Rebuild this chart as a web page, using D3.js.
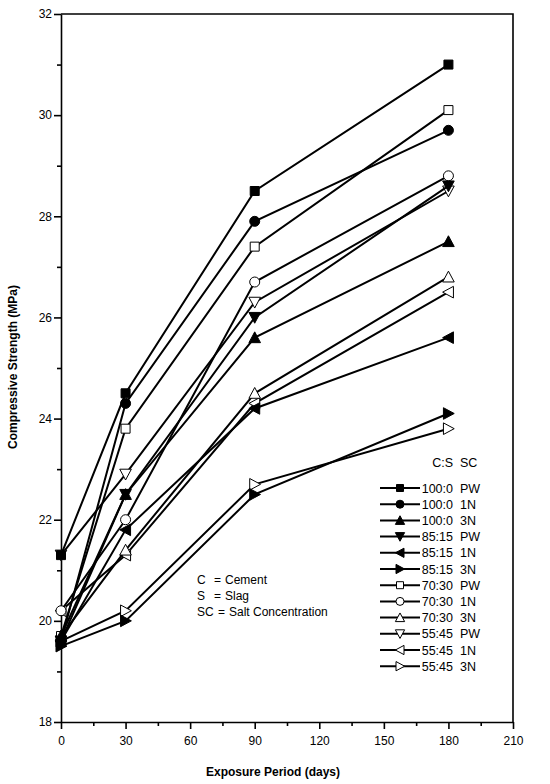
<!DOCTYPE html>
<html>
<head>
<meta charset="utf-8">
<script src="https://cdn.jsdelivr.net/npm/d3@7"></script>
<style>
  body { margin: 0; background: #fff; }
  svg { font-family: Arial, "Liberation Sans", sans-serif; }
</style>
</head>
<body>
<script>
(function () {
  'use strict';

  // exposure period (days)
  const days = [0, 30, 90, 180];

  // series labels (C:S ratio, salt concentration)
  const ratios = ['100:0', '100:0', '100:0', '85:15', '85:15', '85:15',
                  '70:30', '70:30', '70:30', '55:45', '55:45', '55:45'];
  const saltConc = ['PW', '1N', '3N', 'PW', '1N', '3N',
                    'PW', '1N', '3N', 'PW', '1N', '3N'];

  // compressive strength (MPa) per series
  const s100PW = [21.3, 24.5, 28.5, 31.0];
  const s100N1 = [19.6, 24.3, 27.9, 29.7];
  const s100N3 = [19.7, 22.5, 25.6, 27.5];
  const s85PW  = [19.6, 22.5, 26.0, 28.6];
  const s85N1  = [19.6, 21.8, 24.2, 25.6];
  const s85N3  = [19.5, 20.0, 22.5, 24.1];
  const s70PW  = [19.7, 23.8, 27.4, 30.1];
  const s70N1  = [20.2, 22.0, 26.7, 28.8];
  const s70N3  = [19.7, 21.4, 24.5, 26.8];
  const s55PW  = [21.3, 22.9, 26.3, 28.5];
  const s55N1  = [20.2, 21.3, 24.3, 26.5];
  const s55N3  = [19.6, 20.2, 22.7, 23.8];

  const seriesValues = [s100PW, s100N1, s100N3, s85PW, s85N1, s85N3,
                        s70PW, s70N1, s70N3, s55PW, s55N1, s55N3];

  // marker shape and fill for each series
  const shapes = ['square', 'circle', 'up', 'down', 'left', 'right',
                  'square', 'circle', 'up', 'down', 'left', 'right'];
  const filled = [true, true, true, true, true, true,
                  false, false, false, false, false, false];

  const xTicks = [0, 30, 60, 90, 120, 150, 180, 210];
  const yTicks = [18, 20, 22, 24, 26, 28, 30, 32];

  const series = seriesValues.map((v, i) => ({
    ratio: ratios[i],
    sc: saltConc[i],
    shape: shapes[i],
    filled: filled[i],
    points: days.map((d, j) => [d, v[j]])
  }));

  var width = 550;
  var height = 784;
  var margin = { left: 61, top: 14, right: 37, bottom: 62 };
  var plotW = width - margin.left - margin.right;
  var plotH = height - margin.top - margin.bottom;

  var svg = d3.select('body')
    .append('svg')
    .attr('width', width)
    .attr('height', height);

  var g = svg.append('g')
    .attr('transform', `translate(${margin.left},${margin.top})`);

  let xScale = d3.scaleLinear().domain([0, 210]).range([0, plotW]);
  let yScale = d3.scaleLinear().domain([18, 32]).range([plotH, 0]);

  // ===========================================================================
  // axes
  // ===========================================================================

  // minor ticks first
  g.append('g')
    .attr('transform', `translate(0,${plotH})`)
    .call(d3.axisBottom(xScale).tickValues(d3.range(15, 210, 30)).tickSize(4).tickFormat(''))
    .call(a => a.select('.domain').remove());

  g.append('g')
    .call(d3.axisLeft(yScale).tickValues(d3.range(19, 32, 2)).tickSize(4).tickFormat(''))
    .call(a => a.select('.domain').remove());

  let xAxis = g.append('g')
    .attr('transform', `translate(0,${plotH})`)
    .call(d3.axisBottom(xScale).tickValues(xTicks).tickSize(7).tickSizeOuter(0).tickPadding(7));

  let yAxis = g.append('g')
    .call(d3.axisLeft(yScale).tickValues(yTicks).tickSize(7).tickSizeOuter(0).tickPadding(2));

  g.selectAll('.tick line').attr('stroke', '#000').attr('stroke-width', 1.6);
  g.selectAll('.domain').attr('stroke-width', 1.6);
  xAxis.selectAll('text').attr('font-size', '12px').attr('fill', '#000')
    .attr('font-family', 'Arial, "Liberation Sans", sans-serif');
  yAxis.selectAll('text').attr('font-size', '12px').attr('fill', '#000')
    .attr('font-family', 'Arial, "Liberation Sans", sans-serif');

  // frame: top and right
  g.append('path')
    .attr('d', `M0,0H${plotW}V${plotH}`)
    .attr('fill', 'none')
    .attr('stroke', '#000')
    .attr('stroke-width', 1.6);

  svg.append('text')
    .attr('x', margin.left + plotW / 2 - 14)
    .attr('y', 776)
    .attr('text-anchor', 'middle')
    .attr('font-size', '12px')
    .attr('font-weight', 'bold')
    .text('Exposure Period (days)');

  svg.append('text')
    .attr('transform', `translate(17,${margin.top + plotH / 2 - 1}) rotate(-90)`)
    .attr('text-anchor', 'middle')
    .attr('font-size', '12px')
    .attr('font-weight', 'bold')
    .text('Compressive Strength (MPa)');

  // ===========================================================================
  // markers
  // ===========================================================================
  function markerPath(shape, s) {
    if (shape === 'square') return d3.symbol(d3.symbolSquare, s * s)();
    if (shape === 'circle') return d3.symbol(d3.symbolCircle, Math.PI * s * s / 4)();
    var h = s * 0.5, t = s * 0.58;
    if (shape === 'up') return `M0,${-t}L${t},${h}L${-t},${h}Z`;
    if (shape === 'down') return `M0,${t}L${t},${-h}L${-t},${-h}Z`;
    if (shape === 'left') return `M${-t},0L${h},${-t}L${h},${t}Z`;
    return `M${t},0L${-h},${-t}L${-h},${t}Z`;
  }

  var line = d3.line()
    .x(d => xScale(d[0]))
    .y(d => yScale(d[1]));

  // draw the open series first so the filled ones sit on top
  const drawOrder = series.slice().reverse();

  const cover = g.append('g')
    .selectAll('g')
    .data(drawOrder)
    .enter()
    .append('g');

  cover.append('path')
    .attr('d', d => line(d.points))
    .attr('fill', 'none')
    .attr('stroke', '#000')
    .attr('stroke-width', 2);

  cover.selectAll('path.mk')
    .data(d => d.points.map(p => ({ p: p, s: d })))
    .enter()
    .append('path')
    .attr('class', 'mk')
    .attr('transform', d => `translate(${xScale(d.p[0])},${yScale(d.p[1])})`)
    .attr('d', d => markerPath(d.s.shape, d.s.shape === 'square' ? 9 : 10))
    .attr('fill', d => d.s.filled ? '#000' : '#fff')
    .attr('stroke', '#000')
    .attr('stroke-width', 1);

  // ===========================================================================
  // legend
  // ===========================================================================
  var leg = svg.append('g');
  var legY0 = 488, legDy = 16.2;

  leg.append('text')
    .attr('x', 453).attr('y', legY0 - 21)
    .attr('text-anchor', 'end')
    .attr('font-size', '12.5px')
    .text('C:S');
  leg.append('text')
    .attr('x', 460).attr('y', legY0 - 21)
    .attr('font-size', '12.5px')
    .text('SC');

  var rows = leg.selectAll('g.row')
    .data(series)
    .enter()
    .append('g')
    .attr('class', 'row')
    .attr('transform', (d, i) => `translate(0,${legY0 + i * legDy})`);

  rows.append('line')
    .attr('x1', 380).attr('x2', 420)
    .attr('stroke', '#000').attr('stroke-width', 2);

  rows.append('path')
    .attr('transform', 'translate(400,0)')
    .attr('d', d => markerPath(d.shape, d.shape === 'square' ? 7 : 8))
    .attr('fill', d => d.filled ? '#000' : '#fff')
    .attr('stroke', '#000')
    .attr('stroke-width', 1);

  rows.append('text')
    .attr('x', 453).attr('y', 4.5)
    .attr('text-anchor', 'end')
    .attr('font-size', '12.5px')
    .text(d => d.ratio);

  rows.append('text')
    .attr('x', 460).attr('y', 4.5)
    .attr('font-size', '12.5px')
    .text(d => d.sc);

  // ===========================================================================
  // abbreviations note
  // ===========================================================================
  const noteKeys = ['C', 'S', 'SC'];
  const noteVals = ['Cement', 'Slag', 'Salt Concentration'];
  const noteEqX = [214, 214, 218];
  const noteValX = [225, 225, 229];
  var note = svg.append('g');
  noteKeys.forEach((k, i) => {
    var y = 584 + i * 16;
    note.append('text').attr('x', 197).attr('y', y).attr('font-size', '12px').text(k);
    note.append('text').attr('x', noteEqX[i]).attr('y', y).attr('font-size', '12px').text('=');
    note.append('text').attr('x', noteValX[i]).attr('y', y).attr('font-size', '12px').text(noteVals[i]);
  });
})();
</script>
</body>
</html>
